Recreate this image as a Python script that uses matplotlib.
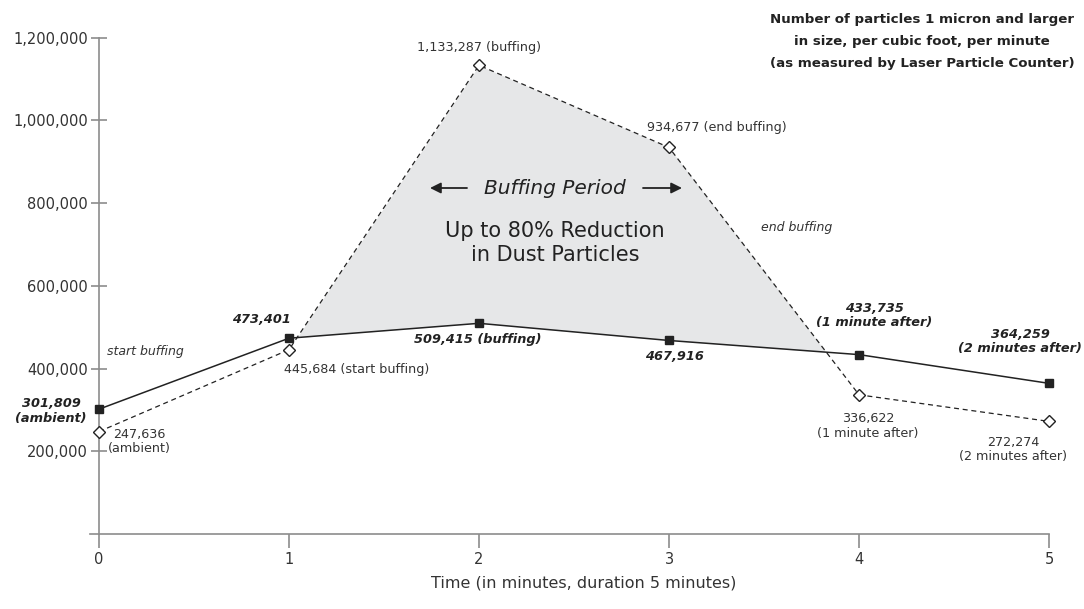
import matplotlib
matplotlib.use("Agg")
import matplotlib.pyplot as plt
import numpy as np

# ---------------- data ----------------
minutes = [0, 1, 2, 3, 4, 5]
with_system = [301809, 473401, 509415, 467916, 433735, 364259]      # solid line, squares
without_system = [247636, 445684, 1133287, 934677, 336622, 272274]  # dashed line, diamonds
solid_notes = ["(ambient)", "", "(buffing)", "", "(1 minute after)", "(2 minutes after)"]
dashed_notes = ["(ambient)", "(start buffing)", "(buffing)", "(end buffing)",
                "(1 minute after)", "(2 minutes after)"]
y_ticks = [200000, 400000, 600000, 800000, 1000000, 1200000]
title_lines = ["Number of particles 1 micron and larger",
               "in size, per cubic foot, per minute",
               "(as measured by Laser Particle Counter)"]
x_label = "Time (in minutes, duration 5 minutes)"

W, H = 1084, 609
plt.rcParams['font.family'] = ['DejaVu Sans']
fig = plt.figure(figsize=(W / 100, H / 100), dpi=100)
ax = fig.add_axes([90 / W, 1 - 534 / H, (1049 - 90) / W, (534 - 37.7) / H])

def P(px, py):
    return px / W, 1 - py / H

DARK = "#222222"
TXT = "#333333"
GRAY = "#8c8c8c"

x = np.array(minutes, dtype=float)
ys = np.array(with_system, dtype=float)
yd = np.array(without_system, dtype=float)

# fill between the curves where dashed above solid
xf = np.linspace(0, 5, 2001)
sf = np.interp(xf, x, ys)
df = np.interp(xf, x, yd)
ax.fill_between(xf, sf, df, where=df > sf, interpolate=True, color="#e6e7e8", lw=0, zorder=1)

ax.plot(x, yd, color=DARK, lw=0.9, ls=(0, (4, 3)), marker="D", ms=6.5,
        mfc="white", mec=DARK, mew=1.0, zorder=3, clip_on=False)
ax.plot(x, ys, color=DARK, lw=1.1, marker="s", ms=5.5, mfc=DARK, mec=DARK, zorder=4,
        clip_on=False)

ax.set_xlim(-0.0474, 5)
ax.set_ylim(0, 1200000)
ax.set_xticks(minutes)
ax.set_xticklabels([str(m) for m in minutes])
ax.set_yticks(y_ticks)
ax.set_yticklabels([f"{v:,}" for v in y_ticks])
for s in ["top", "right"]:
    ax.spines[s].set_visible(False)
ax.spines["left"].set_position(("data", 0))
ax.spines["left"].set_bounds(0, 1200000)
for s in ["left", "bottom"]:
    ax.spines[s].set_color(GRAY)
    ax.spines[s].set_linewidth(1.2)
ax.tick_params(axis="y", direction="inout", length=12, width=1.2, color=GRAY,
               labelsize=10.5, labelcolor=TXT, pad=2)
ax.tick_params(axis="x", direction="out", length=10, width=1.2, color=GRAY,
               labelsize=10.5, labelcolor=TXT, pad=3)
ax.patch.set_alpha(0)

# x label
fig.text(*P(584, 583), x_label, ha="center", va="center", fontsize=11.5, color=TXT)

# title
for i, line in enumerate(title_lines):
    fig.text(*P(922, 20 + 22 * i), line, ha="center", va="center",
             fontsize=9.6, fontweight="bold", color=DARK)

bi = dict(fontsize=9.3, fontweight="bold", fontstyle="italic", color=DARK,
          va="center", linespacing=1.15, textcoords="offset pixels")
rg = dict(fontsize=9.2, color=TXT, va="center", linespacing=1.15,
          textcoords="offset pixels")

def lab(v, note, sep="\n"):
    return f"{v:,}" + (sep + note if note else "")

# solid series labels (bold italic): (dx, dy-down, ha, separator)
solid_off = [(-48, 2, "center", "\n"), (-28, -19, "center", "\n"), (-1, 16, "center", " "),
             (5, 16, "center", "\n"), (15, -39, "center", "\n"), (-29, -42, "center", "\n")]
for xi, v, note, (dx, dy, ha, sep) in zip(minutes, with_system, solid_notes, solid_off):
    ax.annotate(lab(v, note, sep), (xi, v), xytext=(dx, -dy), ha=ha, **bi)

# dashed series labels (regular)
dashed_off = [(40, 10, "center", "\n"), (-5, 20, "left", " "), (0, -18, "center", " "),
              (-22, -20, "left", " "), (9, 31, "center", "\n"), (-36, 28, "center", "\n")]
for xi, v, note, (dx, dy, ha, sep) in zip(minutes, without_system, dashed_notes, dashed_off):
    ax.annotate(lab(v, note, sep), (xi, v), xytext=(dx, -dy), ha=ha, **rg)

# phase notes
fig.text(*P(107, 352), "start buffing", fontsize=9, fontstyle="italic", color=TXT,
         ha="left", va="center")
fig.text(*P(797, 227), "end buffing", fontsize=9, fontstyle="italic", color=TXT,
         ha="center", va="center")

# Buffing period annotation
fig.text(*P(555, 188), "Buffing Period", fontsize=14.5, fontstyle="italic", color=DARK,
         ha="center", va="center")
fig.text(*P(555, 243), "Up to 80% Reduction\nin Dust Particles", fontsize=15, color=DARK,
         ha="center", va="center", linespacing=1.2)
ap = dict(arrowstyle="-|>", color=DARK, lw=1.3, mutation_scale=16, shrinkA=0, shrinkB=0)
fig.add_artist(matplotlib.patches.FancyArrowPatch(P(467, 188), P(430, 188),
               transform=fig.transFigure, **ap))
fig.add_artist(matplotlib.patches.FancyArrowPatch(P(643, 188), P(682, 188),
               transform=fig.transFigure, **ap))

fig.savefig("out.png", dpi=100)
